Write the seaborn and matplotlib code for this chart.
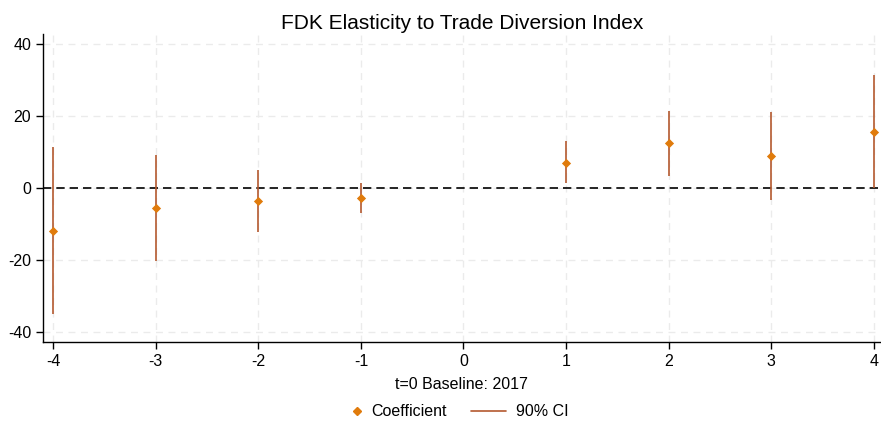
import pandas as pd
import matplotlib
matplotlib.use("Agg")
import matplotlib.pyplot as plt
import seaborn as sns
from matplotlib.lines import Line2D

# Event-study values
periods = [-4, -3, -2, -1, 1, 2, 3, 4]
coef = [-11.9, -5.6, -3.5, -2.8, 7.1, 12.4, 9.0, 15.6]
ci_low = [-35.0, -20.3, -12.1, -6.9, 1.3, 3.3, -3.3, -0.1]
ci_high = [11.4, 9.2, 5.1, 1.4, 13.0, 21.4, 21.2, 31.5]
xticks = [-4, -3, -2, -1, 0, 1, 2, 3, 4]
yticks = [-40, -20, 0, 20, 40]

df = pd.DataFrame({"period": periods, "coef": coef, "lo": ci_low, "hi": ci_high})

POINT_COLOR = "#E07B0C"
CI_COLOR = "#B4592F"

sns.set_style("white")
plt.rcParams["font.family"] = ["Liberation Sans", "DejaVu Sans"]
plt.rcParams["text.color"] = "black"
plt.rcParams["axes.labelcolor"] = "black"
plt.rcParams["xtick.color"] = "black"
plt.rcParams["ytick.color"] = "black"

fig = plt.figure(figsize=(8.81, 4.26), dpi=100)
ax = fig.add_axes([0.0488, 0.197, 0.951, 0.723])

ax.grid(True, color="#ebebeb", linestyle=(0, (5, 4)), linewidth=1.0)
ax.set_axisbelow(True)

ax.axhline(0, color="black", linestyle=(0, (5, 3)), linewidth=1.2, zorder=2)
ax.vlines(df["period"], df["lo"], df["hi"], color=CI_COLOR, linewidth=1.2, zorder=3)
sns.scatterplot(data=df, x="period", y="coef", marker="D", s=22, color=POINT_COLOR,
                edgecolor=POINT_COLOR, linewidth=0, zorder=4, ax=ax, legend=False)

ax.set_xlim(-4.1, 4.07)
ax.set_ylim(-42.8, 42.8)
ax.set_xticks(xticks)
ax.set_xticklabels([str(t) for t in xticks])
ax.set_yticks(yticks)
ax.set_yticklabels([str(t) for t in yticks])
ax.tick_params(axis="both", direction="out", length=5, width=1, color="black",
               labelsize=11.5, bottom=True, left=True)

sns.despine(ax=ax, top=True, right=True)
for side in ["left", "bottom"]:
    ax.spines[side].set_color("black")
    ax.spines[side].set_linewidth(1.0)

ax.set_xlabel("t=0 Baseline: 2017", fontsize=11.5, labelpad=6)
ax.set_ylabel("")
ax.set_title("FDK Elasticity to Trade Diversion Index", fontsize=15, pad=4)

# legend: marker key is narrow, line key is wider, so two separate legends
leg1 = fig.legend([Line2D([], [], marker="D", linestyle="none", color=POINT_COLOR, markersize=4.5)],
                  ["Coefficient"], loc="center left", bbox_to_anchor=(0.3975, 0.033),
                  frameon=False, fontsize=11.5, handlelength=0.8, handletextpad=0.5,
                  borderaxespad=0, borderpad=0)
leg2 = fig.legend([Line2D([], [], color=CI_COLOR, linewidth=1.2)],
                  ["90% CI"], loc="center left", bbox_to_anchor=(0.535, 0.033),
                  frameon=False, fontsize=11.5, handlelength=2.2, handletextpad=0.6,
                  borderaxespad=0, borderpad=0)

fig.savefig("out.png", dpi=100)
